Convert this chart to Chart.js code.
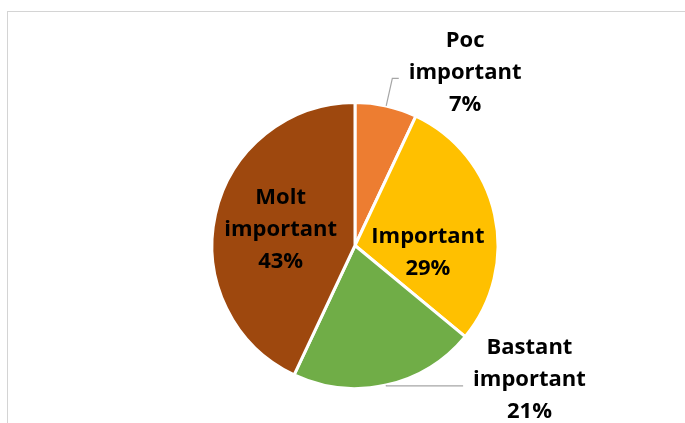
<!DOCTYPE html>
<html>
<head>
<meta charset="utf-8">
<script src="https://cdn.jsdelivr.net/npm/chart.js@4.4.1/dist/chart.umd.min.js"></script>
<style>
  html, body { margin: 0; padding: 0; background: #fff; }
  #wrap { width: 685px; height: 423px; position: relative; }
</style>
</head>
<body>
<div id="wrap"><canvas id="pie" width="685" height="423"></canvas></div>
<script>
const categories = ['Poc important', 'Important', 'Bastant important', 'Molt important'];
const values     = [7, 29, 21, 43];
const colors     = ['#ED7D31', '#FFC000', '#70AD47', '#9E480E'];

// label block centre, as a fraction of the radius from the pie centre
const labelPlace = [
    { fx: 0.77,  fy: -1.21, leader: true },
    { fx: 0.51,  fy: 0.05,  leader: false },
    { fx: 1.22,  fy: 0.94,  leader: true },
    { fx: -0.52, fy: -0.11, leader: false },
];

const FONT = 'bold 22px "Open Sans", "Noto Sans", sans-serif';
const LINE = 32;

const frame = {
    id: 'frame',
    beforeDraw(chart) {
        const c = chart.ctx;
        c.save();
        c.strokeStyle = '#d4d4d4';
        c.lineWidth = 1;
        c.strokeRect(7.5, 11.5, 720, 460);
        c.restore();
    }
};

const sliceLabels = {
    id: 'sliceLabels',
    afterDatasetsDraw(chart) {
        const c = chart.ctx;
        const arcs = chart.getDatasetMeta(0).data;
        const total = values.reduce((a, b) => a + b, 0);
        c.save();
        c.font = FONT;
        c.textAlign = 'center';
        c.textBaseline = 'middle';
        arcs.forEach((arc, i) => {
            const { x, y, outerRadius: r, startAngle, endAngle } = arc.getProps(['x', 'y', 'outerRadius', 'startAngle', 'endAngle'], true);
            const lines = categories[i].split(' ');
            lines.push(Math.round(values[i] / total * 100) + '%');
            const p = labelPlace[i];
            const lx = x + p.fx * r;
            const ly = y + p.fy * r;
            const top = ly - (lines.length - 1) * LINE / 2;

            if (p.leader) {
                const mid = (startAngle + endAngle) / 2;
                const cos = Math.cos(mid), sin = Math.sin(mid);
                const w = Math.max(...lines.map(t => c.measureText(t).width));
                const ex = lx - w / 2 - 10;
                const ey = ly + 6;
                const t = Math.max(r, (ey - y) / sin);
                c.strokeStyle = '#a6a6a6';
                c.lineWidth = 1.2;
                c.beginPath();
                c.moveTo(x + cos * r, y + sin * r);
                c.lineTo(x + cos * t, y + sin * t);
                c.lineTo(ex, ey);
                c.stroke();
            }

            c.fillStyle = '#000';
            lines.forEach((t, k) => c.fillText(t, lx, top + k * LINE));
        });
        c.restore();
    }
};

new Chart(document.getElementById('pie'), {
    type: 'pie',
    data: {
        labels: categories,
        datasets: [{
            data: values,
            backgroundColor: colors,
            borderColor: '#fff',
            borderWidth: 3,
        }]
    },
    options: {
        responsive: false,
        animation: false,
        layout: { padding: { left: 55, right: 30, top: 101, bottom: 33 } },
        plugins: {
            legend: { display: false },
            tooltip: { enabled: false }
        }
    },
    plugins: [frame, sliceLabels]
});
</script>
</body>
</html>
